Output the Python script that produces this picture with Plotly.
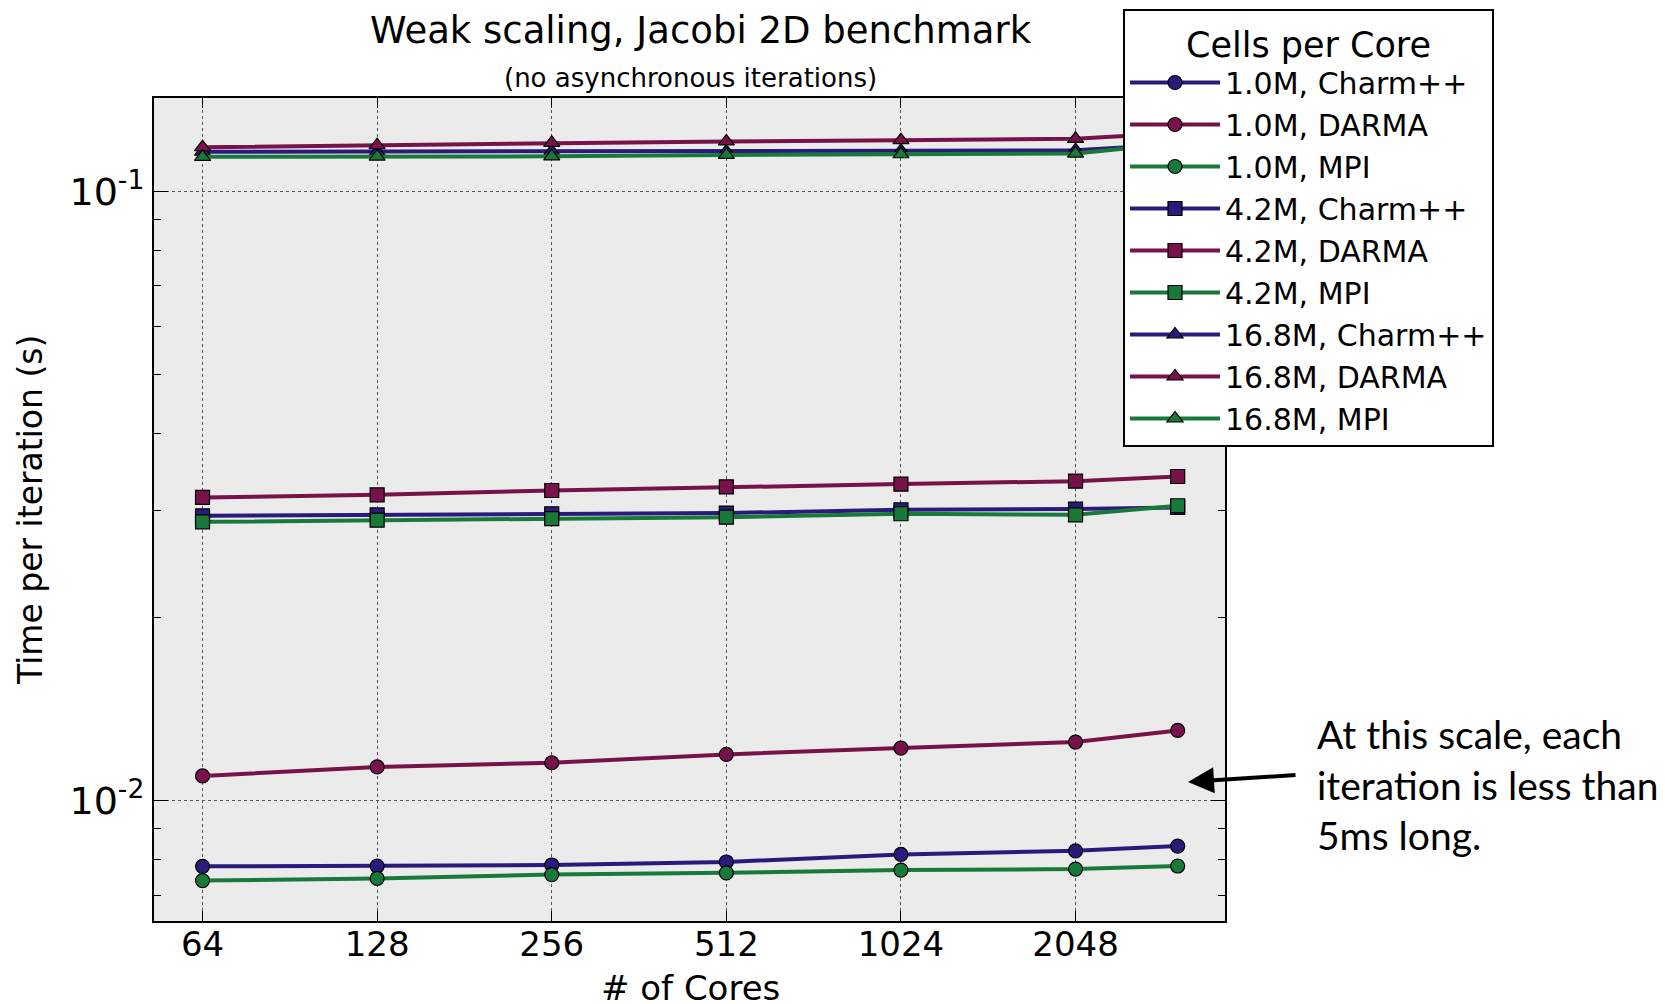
import plotly.graph_objects as go
import math

# ---------------- data ----------------
cores = [64, 128, 256, 512, 1024, 2048, 3072]
x_tick_vals = [64, 128, 256, 512, 1024, 2048]
x_tick_text = ["64", "128", "256", "512", "1024", "2048"]
y_tick_vals = [0.01, 0.1]
y_tick_text = ["10<sup>-2</sup>", "10<sup>-1</sup>"]
y_minor_vals = [0.007, 0.008, 0.009, 0.02, 0.03, 0.04, 0.05, 0.06, 0.07, 0.08, 0.09]

t_1m_charm = [0.00781, 0.00782, 0.00785, 0.00794, 0.00817, 0.00828, 0.00843]
t_1m_darma = [0.01099, 0.01137, 0.01155, 0.01192, 0.01221, 0.01249, 0.01305]
t_1m_mpi = [0.00740, 0.00746, 0.00757, 0.00762, 0.00770, 0.00773, 0.00782]
t_4m_charm = [0.02935, 0.02946, 0.02958, 0.02966, 0.03003, 0.03011, 0.03030]
t_4m_darma = [0.03146, 0.03178, 0.03230, 0.03275, 0.03309, 0.03346, 0.03405]
t_4m_mpi = [0.02869, 0.02887, 0.02904, 0.02920, 0.02958, 0.02946, 0.03049]
t_16m_charm = [0.1161, 0.1161, 0.1163, 0.1162, 0.1165, 0.1168, 0.1194]
t_16m_darma = [0.1181, 0.1190, 0.1201, 0.1207, 0.1213, 0.1219, 0.1246]
t_16m_mpi = [0.1139, 0.1140, 0.1141, 0.1147, 0.1150, 0.1153, 0.1199]

series_names = ["1.0M, Charm++", "1.0M, DARMA", "1.0M, MPI",
                "4.2M, Charm++", "4.2M, DARMA", "4.2M, MPI",
                "16.8M, Charm++", "16.8M, DARMA", "16.8M, MPI"]
series_values = [t_1m_charm, t_1m_darma, t_1m_mpi,
                 t_4m_charm, t_4m_darma, t_4m_mpi,
                 t_16m_charm, t_16m_darma, t_16m_mpi]

# ---------------- styles ----------------
C_CHARM = "#2A1A7C"
C_DARMA = "#78124A"
C_MPI = "#19793A"
colors = [C_CHARM, C_DARMA, C_MPI] * 3
symbols = ["circle"] * 3 + ["square"] * 3 + ["triangle-up"] * 3

FONT = "DejaVu Sans"

fig = go.Figure()
for name, vals, col, sym in zip(series_names, series_values, colors, symbols):
    fig.add_trace(go.Scatter(
        x=cores, y=vals, name=name, mode="lines+markers",
        line=dict(color=col, width=4),
        marker=dict(symbol=sym, size=14, color=col,
                    line=dict(color="black", width=1.2)),
    ))

# The page body adds an 8px margin; compensate so the chart lands where intended.
OFF = 8
W, H = 1665 - OFF, 1004 - OFF
PL, PR, PT, PB = 154, 1225, 98, 921  # plot-area edges in screen pixels
L, T = PL - OFF, PT - OFF
R, B = W - (PR - OFF), H - (PB - OFF)
pw = PR - PL
ph = PB - PT


def px_x(p):
    return (p - PL) / pw


def px_y(p):
    return (PB - p) / ph


fig.update_layout(
    width=W, height=H,
    margin=dict(l=L, r=R, t=T, b=B, autoexpand=False),
    paper_bgcolor="white",
    plot_bgcolor="#EBEBEB",
    font=dict(family=FONT, color="black"),
    showlegend=True,
    legend=dict(
        title=dict(text="Cells per Core", side="top center",
                   font=dict(family=FONT, size=35)),
        font=dict(family=FONT, size=30),
        bgcolor="white", bordercolor="black", borderwidth=2,
        x=px_x(1123), y=px_y(9), xanchor="left", yanchor="top",
        itemwidth=90,
    ),
)

fig.update_xaxes(
    type="log",
    range=[5.722 * math.log10(2), 11.856 * math.log10(2)],
    tickvals=x_tick_vals, ticktext=x_tick_text,
    tickfont=dict(family=FONT, size=34),
    ticklabelstandoff=-8,
    ticks="inside", ticklen=10, tickwidth=1, tickcolor="black",
    showline=True, linecolor="black", linewidth=2, mirror="ticks",
    showgrid=True, gridcolor="#555555", griddash="dot", gridwidth=1,
    zeroline=False, automargin=False,
)

fig.update_yaxes(
    type="log",
    range=[-2.197, -0.847],
    tickvals=y_tick_vals, ticktext=y_tick_text,
    tickfont=dict(family=FONT, size=38),
    ticks="inside", ticklen=14, tickwidth=1, tickcolor="black",
    minor=dict(tickmode="array", tickvals=y_minor_vals, ticks="inside",
               ticklen=7, tickcolor="black", showgrid=False),
    showline=True, linecolor="black", linewidth=2, mirror="ticks",
    showgrid=True, gridcolor="#555555", griddash="dot", gridwidth=1,
    zeroline=False, automargin=False,
)

# Axis titles
fig.add_annotation(text="# of Cores", xref="paper", yref="paper",
                   x=px_x(690), y=px_y(988), xanchor="center", yanchor="middle",
                   showarrow=False, font=dict(family=FONT, size=34, color="black"))
fig.add_annotation(text="Time per iteration (s)", xref="paper", yref="paper",
                   x=px_x(30), y=px_y(510), xanchor="center", yanchor="middle",
                   textangle=-90, showarrow=False,
                   font=dict(family=FONT, size=33, color="black"))

# Title and subtitle
fig.add_annotation(text="Weak scaling, Jacobi 2D benchmark",
                   xref="paper", yref="paper", x=px_x(701), y=px_y(30),
                   xanchor="center", yanchor="middle", showarrow=False,
                   font=dict(family=FONT, size=37, color="black"))
fig.add_annotation(text="(no asynchronous iterations)",
                   xref="paper", yref="paper", x=px_x(690), y=px_y(78),
                   xanchor="center", yanchor="middle", showarrow=False,
                   font=dict(family=FONT, size=26, color="black"))

# Side note with arrow
fig.add_annotation(text="At this scale, each<br>iteration is less than<br>5ms long.",
                   xref="paper", yref="paper", x=px_x(1315), y=px_y(784),
                   xanchor="left", yanchor="middle", showarrow=False, align="left",
                   font=dict(family="Lato", size=39, color="black"))
fig.add_annotation(text="", xref="paper", yref="paper",
                   x=px_x(1188), y=px_y(782),
                   ax=109, ay=-7, axref="pixel", ayref="pixel",
                   showarrow=True, arrowhead=2, arrowsize=1.3, arrowwidth=4,
                   arrowcolor="black")

fig.write_html("out.html")
